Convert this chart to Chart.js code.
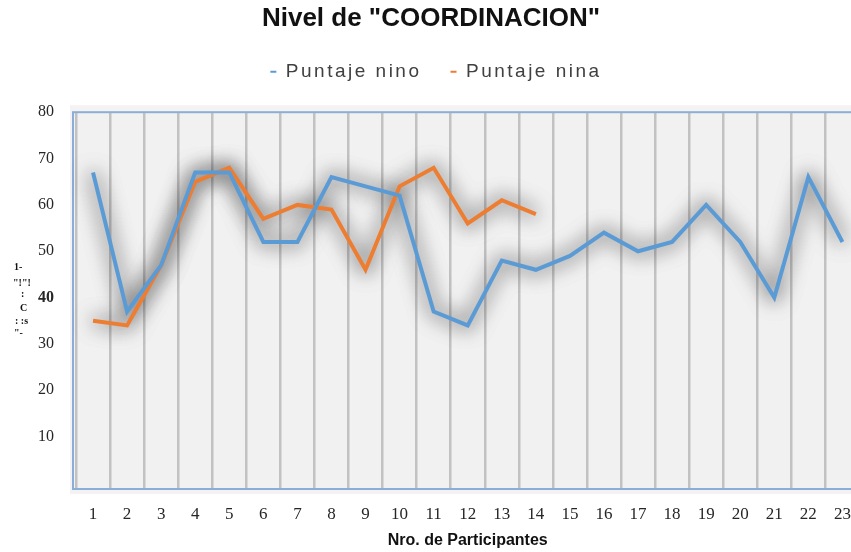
<!DOCTYPE html>
<html>
<head>
<meta charset="utf-8">
<script src="https://cdn.jsdelivr.net/npm/chart.js@4.4.1/dist/chart.umd.min.js"></script>
<style>
  html, body { margin: 0; padding: 0; background: #fff; overflow: hidden; }
  #wrap { width: 851px; height: 552px; overflow: hidden; }
</style>
</head>
<body>
<div id="wrap"><canvas id="chart" width="866" height="552"></canvas></div>
<script>
// participants 1..23
const participantes = ['1','2','3','4','5','6','7','8','9','10','11','12','13','14','15','16','17','18','19','20','21','22','23'];
const puntajeNino = [67, 37, 47, 67, 67, 52, 52, 66, 64, 62, 37, 34, 48, 46, 49, 54, 50, 52, 60, 52, 40, 66, 52];
const puntajeNina = [35, 34, 47, 65, 68, 57, 60, 59, 46, 64, 68, 56, 61, 58];
const yTicks = [10, 20, 30, 40, 50, 60, 70, 80];
// garbled vertical axis caption, kept as it appears
const yCaption = ['1-', '"!"!', ':', 'C', ': :s', '"-'];

const plotFrame = {
    id: 'plotFrame',
    beforeDraw(chart) {
        const { ctx, chartArea: a } = chart;
        ctx.save();
        ctx.fillStyle = '#f4f2f2';
        ctx.fillRect(a.left - 6, a.top - 7, a.right - a.left + 12, a.bottom - a.top + 12);
        ctx.fillStyle = '#f1f1f1';
        ctx.fillRect(a.left - 3, a.top, a.right - a.left + 6, a.bottom - a.top);
        ctx.restore();
    },
    beforeDatasetsDraw(chart) {
        const { ctx, chartArea: a } = chart;
        ctx.save();
        ctx.strokeStyle = '#8aaed8';
        ctx.lineWidth = 2;
        ctx.strokeRect(a.left - 3, a.top, a.right - a.left + 6, a.bottom - a.top);
        ctx.restore();

        // grey glow under the lines: draw them off-canvas, keep only the shadow
        const shift = 3000;
        ctx.save();
        ctx.translate(-shift, 0);
        ctx.shadowOffsetX = shift;
        ctx.shadowOffsetY = 0;
        ctx.shadowColor = 'rgba(0, 0, 0, 0.55)';
        ctx.shadowBlur = 20;
        const metas = chart.getSortedVisibleDatasetMetas();
        for (let pass = 0; pass < 2; pass++) {
            metas.forEach(m => m.controller.draw());
        }
        ctx.restore();
    },
    afterDraw(chart) {
        const ctx = chart.ctx;
        ctx.save();
        ctx.fillStyle = '#111';
        ctx.font = 'bold 10px "Liberation Serif"';
        ctx.textBaseline = 'middle';
        const xs = [14, 13, 21, 20, 15, 14];
        const ys = [267, 283, 294, 308, 321, 333];
        yCaption.forEach((t, i) => ctx.fillText(t, xs[i], ys[i]));
        ctx.restore();
    }
};

// letter-spaced legend like the original
const spacedLegend = {
    id: 'spacedLegend',
    beforeLayout(chart) {
        const lg = chart.legend;
        if (!lg || lg._spaced) return;
        lg._spaced = true;
        const origFit = lg.fit.bind(lg);
        const origDraw = lg.draw.bind(lg);
        lg.fit = function () {
            const prev = this.ctx.letterSpacing;
            this.ctx.letterSpacing = '2.5px';
            origFit();
            this.ctx.letterSpacing = prev;
            this.height += 8;
        };
        lg.draw = function (...args) {
            const c = this.ctx;
            const prev = c.letterSpacing;
            const box = { top: this.top, left: this.left, right: this.right };
            this.top -= 13;
            this.left += 5;
            this.right += 5;
            c.letterSpacing = '2.5px';
            origDraw(...args);
            c.letterSpacing = prev;
            Object.assign(this, box);
        };
    }
};

const ctx = document.getElementById('chart').getContext('2d');
new Chart(ctx, {
    type: 'line',
    data: {
        labels: participantes,
        datasets: [
            {
                label: 'Puntaje nino',
                data: puntajeNino,
                borderColor: '#5b9bd5',
                backgroundColor: '#5b9bd5',
                borderWidth: 4,
                pointRadius: 0,
                tension: 0
            },
            {
                label: 'Puntaje nina',
                data: puntajeNina,
                borderColor: '#ed7d31',
                backgroundColor: '#ed7d31',
                borderWidth: 4,
                pointRadius: 0,
                tension: 0
            }
        ]
    },
    options: {
        responsive: false,
        animation: false,
        layout: { padding: { left: 0, right: 4, top: 0, bottom: 2 } },
        plugins: {
            title: {
                display: true,
                text: 'Nivel de "COORDINACION"',
                color: '#111',
                font: { family: '"Liberation Sans", Arial', size: 26, weight: 'bold' },
                padding: { top: 3, bottom: 12 }
            },
            legend: {
                display: true,
                labels: {
                    color: '#404040',
                    font: { family: '"Liberation Sans", Arial', size: 19 },
                    boxWidth: 6,
                    boxHeight: 2,
                    padding: 29,
                    generateLabels(chart) {
                        return Chart.defaults.plugins.legend.labels.generateLabels(chart)
                            .map(item => Object.assign(item, { lineWidth: 0 }));
                    }
                }
            },
            tooltip: { enabled: false }
        },
        scales: {
            x: {
                offset: true,
                afterFit(axis) { axis.height = 61; },
                grid: { offset: true, color: '#c2c2c2', lineWidth: 2.5, drawTicks: false },
                border: { display: false },
                ticks: {
                    color: '#262626',
                    padding: 15,
                    maxRotation: 0,
                    autoSkip: false,
                    font: { family: '"Liberation Serif", "Times New Roman"', size: 17 }
                },
                title: {
                    display: true,
                    text: 'Nro. de Participantes',
                    color: '#111',
                    font: { family: '"Liberation Sans", Arial', size: 16, weight: 'bold' },
                    padding: { top: 8, bottom: 0 }
                }
            },
            y: {
                min: -1.3,
                max: 80,
                afterFit(axis) { axis.width = 76; },
                afterBuildTicks(axis) {
                    axis.ticks = yTicks.map(v => ({ value: v }));
                },
                grid: { display: false },
                border: { display: false },
                ticks: {
                    color: '#262626',
                    padding: 14,
                    font: c => ({
                        family: '"Liberation Serif", "Times New Roman"',
                        size: 16,
                        weight: c.tick && c.tick.value === 40 ? 'bold' : 'normal'
                    })
                }
            }
        }
    },
    plugins: [plotFrame, spacedLegend]
});
</script>
</body>
</html>
